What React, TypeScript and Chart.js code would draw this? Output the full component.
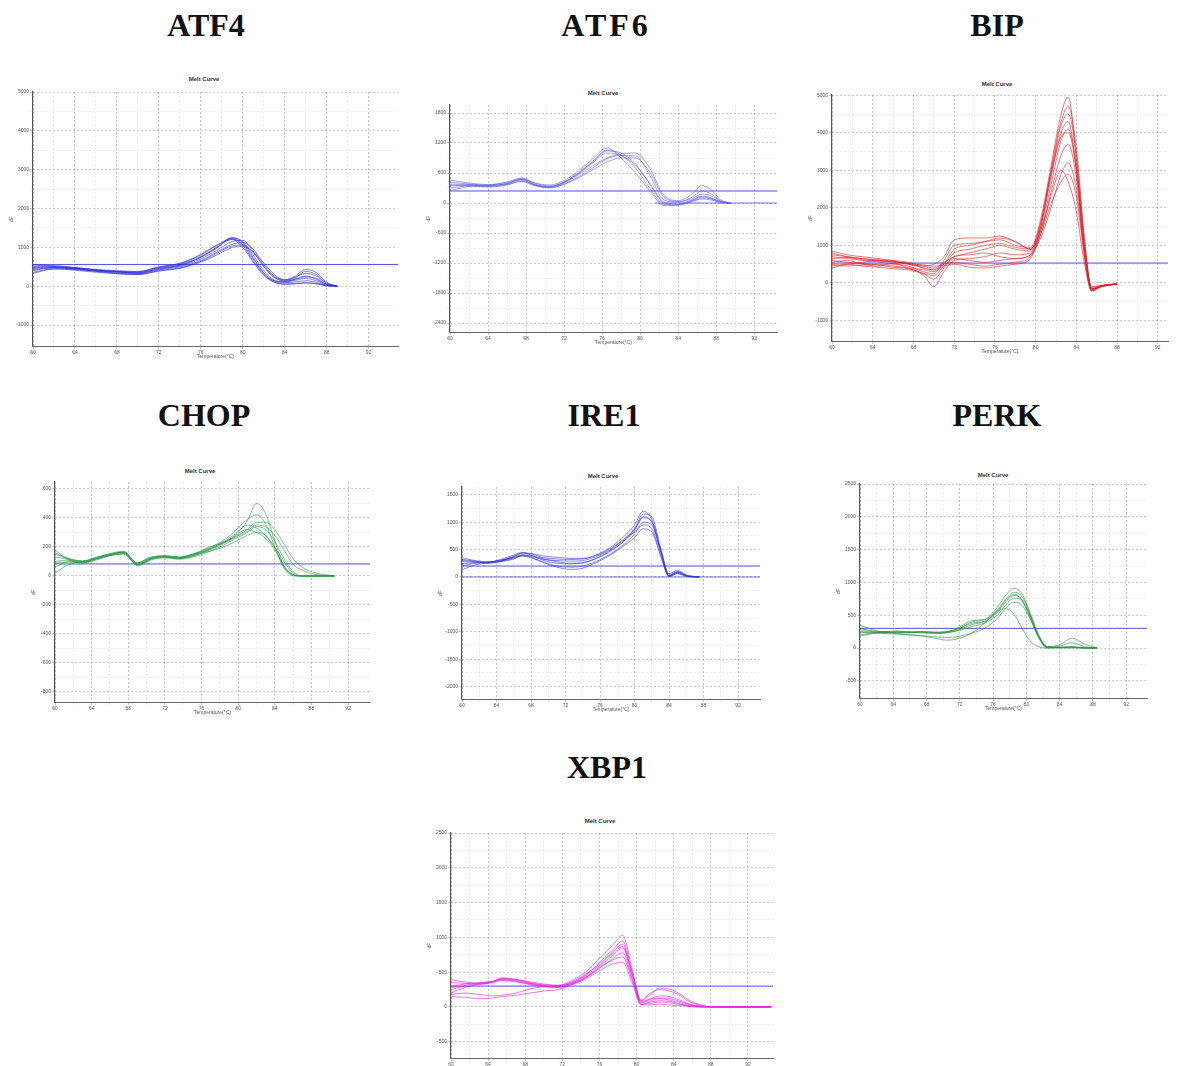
import React, { useEffect, useRef } from "react";
import { Chart, registerables } from "chart.js";

Chart.register(...registerables);

// ---------- shared tick labels ----------
const xTickLabels = [60, 64, 68, 72, 76, 80, 84, 88, 92];

// ---------- ATF4 ----------
const atf4Temps = [60, 62, 64, 66, 68, 70, 72, 74, 76, 77.5, 79, 80, 81, 82, 83, 84, 85, 86, 87, 88, 89];
const atf4Curves = [
  [450, 500, 470, 420, 380, 360, 480, 560, 760, 1000, 1210, 1080, 700, 330, 130, 90, 110, 140, 100, 20, 0],
  [400, 480, 450, 400, 360, 340, 460, 540, 740, 980, 1250, 1150, 800, 400, 160, 120, 180, 260, 180, 40, 0],
  [520, 530, 480, 410, 370, 330, 440, 520, 700, 920, 1150, 1180, 900, 500, 220, 150, 220, 380, 300, 80, 0],
  [330, 440, 430, 390, 340, 320, 420, 500, 660, 870, 1080, 1120, 950, 560, 260, 170, 260, 430, 350, 100, 0],
  [560, 510, 460, 420, 380, 370, 490, 580, 800, 1040, 1200, 1000, 620, 280, 100, 60, 70, 90, 60, 10, 0],
  [430, 470, 440, 380, 330, 300, 400, 470, 640, 840, 1040, 1060, 860, 520, 240, 130, 180, 240, 200, 50, 0],
  [480, 500, 480, 430, 400, 380, 500, 590, 820, 1060, 1230, 1050, 650, 300, 110, 50, 60, 80, 70, 10, 0],
  [360, 450, 410, 360, 320, 300, 390, 460, 620, 800, 1000, 1030, 880, 600, 300, 160, 230, 330, 260, 70, 0],
  [500, 490, 450, 400, 370, 350, 450, 540, 750, 990, 1240, 1120, 740, 350, 140, 110, 150, 200, 140, 30, 0],
];
const atf4Threshold = 560;
const atf4YTicks = [-1000, 0, 1000, 2000, 3000, 4000, 5000];

// ---------- ATF6 ----------
const atf6Temps = [60, 62, 64, 66, 67.5, 69, 70.5, 72, 73.5, 75, 76.5, 78, 79.5, 81, 82.5, 84, 85.5, 86.5, 87.5, 88.5, 89.5];
const atf6Curves = [
  [360, 350, 330, 380, 470, 360, 330, 420, 600, 820, 1060, 960, 700, 300, -30, -40, 30, 80, 60, 10, 0],
  [420, 380, 360, 420, 500, 400, 360, 450, 640, 880, 1100, 900, 600, 250, -50, -30, 60, 140, 100, 20, 0],
  [300, 340, 320, 360, 440, 350, 300, 380, 520, 700, 880, 950, 940, 560, 60, 20, 120, 240, 180, 40, 0],
  [460, 400, 370, 410, 460, 360, 320, 400, 560, 740, 900, 980, 1000, 700, 150, 50, 180, 350, 260, 60, 0],
  [250, 330, 350, 390, 480, 390, 340, 420, 600, 830, 1040, 1000, 780, 380, 0, -40, 40, 100, 80, 10, 0],
  [340, 360, 340, 370, 430, 340, 310, 370, 500, 660, 820, 900, 900, 620, 120, 30, 90, 180, 140, 30, 0],
  [380, 370, 350, 390, 490, 370, 320, 410, 580, 800, 1000, 950, 760, 400, 20, -20, 60, 120, 90, 20, 0],
];
const atf6Threshold = 240;
const atf6ZeroLineStart = 81.6;
const atf6YTicks = [-2400, -1800, -1200, -600, 0, 600, 1200, 1800];

// ---------- BIP ----------
const bipTemps = [60, 61.5, 63, 64.5, 66, 67.5, 69, 70, 71, 72, 73.5, 75, 76.5, 78, 79.5, 80.5, 81.5, 82.5, 83.2, 84, 84.8, 85.5, 86.5, 88];
const bipCurves = [
  [700, 650, 600, 560, 500, 450, 300, 250, 600, 1000, 1050, 1100, 1150, 1000, 950, 1700, 3100, 4500, 4950, 3300, 900, -200, -80, -30],
  [550, 600, 500, 450, 520, 400, 200, -100, 300, 600, 650, 700, 800, 750, 800, 1500, 2800, 4000, 4300, 3000, 700, -220, -100, -30],
  [850, 750, 700, 650, 600, 550, 450, 400, 550, 700, 800, 900, 1000, 900, 850, 1400, 2600, 3800, 4100, 3100, 1000, -150, -80, -30],
  [400, 500, 550, 600, 550, 500, 400, 350, 500, 550, 500, 450, 500, 550, 700, 1300, 2400, 3400, 3700, 2800, 900, -120, -60, -20],
  [600, 550, 520, 480, 420, 380, 250, 100, 400, 700, 750, 800, 700, 650, 750, 1200, 2000, 2900, 3200, 2500, 800, -180, -90, -30],
  [750, 700, 650, 600, 580, 500, 450, 500, 700, 1150, 1200, 1200, 1250, 1100, 900, 1400, 2300, 3000, 2700, 1900, 500, -200, -80, -30],
  [500, 450, 480, 500, 450, 400, 350, 300, 450, 500, 420, 400, 450, 500, 650, 1500, 2900, 4200, 4500, 3400, 1100, -100, -70, -20],
  [650, 680, 620, 580, 560, 520, 400, 350, 500, 800, 900, 1000, 1050, 950, 900, 1600, 3000, 4300, 4700, 3600, 1200, -160, -90, -30],
  [450, 500, 450, 420, 380, 350, 250, 200, 450, 650, 600, 550, 600, 650, 750, 1300, 2100, 2700, 2900, 2300, 700, -180, -80, -20],
  [800, 700, 650, 620, 580, 520, 480, 450, 520, 900, 1000, 1100, 1200, 1100, 900, 1600, 2900, 3900, 4000, 3000, 950, -150, -70, -30],
];
const bipThreshold = 530;
const bipYTicks = [-1000, 0, 1000, 2000, 3000, 4000, 5000];

// ---------- CHOP ----------
const chopTemps = [60, 61.5, 63, 64.5, 66, 67.5, 69, 70.5, 72, 73.5, 75, 76.5, 78, 79.5, 81, 82, 83, 84, 85, 86, 87, 88.5, 90.5];
const chopCurves = [
  [150, 120, 100, 130, 150, 165, 90, 130, 130, 125, 140, 170, 210, 270, 380, 500, 430, 240, 70, 10, 0, 0, 0],
  [180, 110, 95, 120, 140, 160, 80, 120, 140, 130, 150, 190, 230, 300, 390, 420, 360, 200, 60, 5, 0, 0, 0],
  [60, 100, 90, 115, 145, 155, 70, 110, 125, 115, 130, 160, 200, 250, 300, 340, 320, 240, 120, 30, 0, 0, 0],
  [100, 110, 100, 125, 155, 170, 85, 125, 135, 120, 135, 175, 215, 270, 320, 300, 260, 180, 60, 0, 0, 0, 0],
  [20, 80, 100, 120, 150, 160, 75, 115, 130, 125, 145, 180, 220, 260, 310, 350, 340, 280, 180, 80, 40, 10, 0],
  [130, 115, 90, 110, 140, 150, 80, 120, 135, 120, 140, 165, 190, 230, 280, 300, 280, 200, 100, 20, 0, 0, 0],
  [160, 120, 105, 125, 150, 165, 90, 130, 140, 130, 150, 175, 220, 280, 350, 330, 280, 190, 70, 10, 0, 0, 0],
  [90, 95, 95, 120, 145, 160, 80, 120, 130, 125, 145, 185, 225, 265, 320, 370, 370, 320, 220, 120, 60, 20, 0],
];
const chopThreshold = 83;
const chopYTicks = [-800, -600, -400, -200, 0, 200, 400, 600];

// ---------- IRE1 ----------
const ire1Temps = [60, 61.5, 63, 64.5, 66, 67, 68, 69.5, 71, 72.5, 74, 75.5, 77, 78.5, 80, 81, 82, 83, 84, 85, 86, 87.5];
const ire1Curves = [
  [300, 280, 260, 300, 380, 430, 420, 350, 330, 320, 330, 400, 520, 700, 950, 1200, 1050, 500, 20, 80, 20, 0],
  [200, 250, 270, 320, 400, 450, 400, 300, 250, 240, 260, 330, 450, 620, 850, 1100, 1000, 520, 40, 100, 30, 0],
  [350, 300, 280, 290, 340, 380, 350, 270, 200, 180, 200, 280, 400, 560, 780, 1000, 950, 480, 30, 90, 20, 0],
  [130, 220, 260, 310, 360, 400, 380, 320, 300, 290, 300, 370, 480, 640, 820, 950, 880, 420, 10, 60, 10, 0],
  [280, 270, 250, 290, 370, 440, 430, 380, 360, 340, 340, 390, 500, 660, 880, 1150, 1100, 560, 60, 120, 40, 0],
  [240, 260, 270, 300, 350, 390, 360, 260, 180, 140, 160, 260, 380, 540, 720, 880, 820, 400, 10, 70, 20, 0],
  [320, 290, 260, 280, 330, 400, 390, 330, 280, 250, 260, 340, 460, 620, 870, 1080, 1020, 500, 20, 90, 20, 0],
];
const ire1Threshold = 200;
const ire1ZeroLineStart = 60;
const ire1YTicks = [-2000, -1500, -1000, -500, 0, 500, 1000, 1500];

// ---------- PERK ----------
const perkTemps = [60, 61.5, 63, 64.5, 66, 67.5, 69, 70.5, 72, 73.5, 75, 76.5, 77.5, 78.5, 79.5, 80.5, 81.5, 82.5, 84, 85.5, 87, 88.5];
const perkCurves = [
  [300, 260, 250, 240, 230, 250, 240, 250, 320, 420, 440, 620, 800, 910, 820, 520, 200, 20, 10, 20, 0, 0],
  [250, 240, 230, 240, 250, 240, 230, 240, 300, 400, 430, 580, 740, 850, 780, 500, 180, 10, 10, 10, 0, 0],
  [350, 280, 240, 250, 240, 230, 220, 230, 280, 360, 400, 540, 700, 800, 740, 480, 170, 10, 30, 80, 20, 0],
  [200, 230, 250, 260, 240, 240, 230, 240, 270, 330, 380, 500, 650, 760, 710, 470, 170, 20, 50, 150, 60, 0],
  [280, 250, 240, 230, 240, 250, 240, 250, 300, 380, 410, 560, 720, 820, 720, 440, 150, 0, 10, 10, 0, 0],
  [180, 220, 240, 220, 200, 190, 170, 160, 180, 230, 300, 450, 600, 700, 650, 430, 160, 10, 10, 20, 0, 0],
  [240, 230, 220, 210, 200, 180, 150, 120, 150, 230, 380, 560, 600, 520, 300, 100, 20, 0, 0, 0, 0, 0],
];
const perkThreshold = 300;
const perkYTicks = [-500, 0, 500, 1000, 1500, 2000, 2500];

// ---------- XBP1 ----------
const xbp1Temps = [60, 61.5, 63, 64.5, 65.5, 67, 68.5, 70, 71.5, 73, 74.5, 76, 77.5, 78.5, 79.5, 80.5, 81.5, 82.5, 83.5, 84.5, 85.5, 87, 88.5, 94.5];
const xbp1Curves = [
  [300, 330, 350, 370, 400, 380, 340, 320, 310, 380, 500, 700, 900, 1030, 560, 80, 120, 160, 150, 110, 50, 10, 0, 0],
  [250, 300, 320, 350, 380, 360, 330, 300, 290, 350, 460, 640, 830, 950, 520, 100, 200, 250, 230, 180, 90, 20, 0, 0],
  [350, 340, 330, 360, 410, 390, 350, 310, 300, 340, 430, 580, 750, 850, 460, 60, 90, 120, 100, 70, 30, 5, 0, 0],
  [200, 280, 330, 360, 390, 370, 320, 290, 280, 330, 420, 560, 700, 780, 420, 40, 50, 70, 60, 40, 15, 0, 0, 0],
  [150, 140, 120, 130, 150, 170, 200, 230, 250, 320, 420, 560, 680, 720, 400, 30, 30, 40, 30, 20, 10, 0, 0, 0],
  [390, 360, 340, 360, 420, 400, 360, 330, 310, 360, 470, 620, 800, 900, 500, 90, 180, 270, 260, 200, 110, 25, 0, 0],
  [280, 310, 340, 370, 400, 390, 340, 300, 280, 320, 400, 520, 620, 640, 360, 40, 70, 90, 80, 50, 20, 0, 0, 0],
  [180, 200, 180, 160, 170, 200, 260, 290, 300, 340, 450, 600, 780, 870, 480, 70, 110, 130, 120, 90, 40, 10, 0, 0],
];
const xbp1Threshold = 300;
const xbp1YTicks = [-500, 0, 500, 1000, 1500, 2000, 2500];

// ---------- layout (positions / styles only) ----------
const Y_AXIS_W = 24;
const X_AXIS_H = 14;
const PAD_T = 6;
const PAD_R = 8;

type Panel = {
  name: string;
  titleX: number;
  titleTop: number;
  letterSpacing: number;
  meltX: number;
  meltY: number;
  L: number; T: number; R: number; B: number;
  xMax: number; yMin: number; yMax: number;
  color: string;
  temps: number[];
  curves: number[][];
  yTicks: number[];
  threshold: number;
  zeroFrom?: number;
};

const panels: Panel[] = [
  { name: "ATF4", titleX: 206, titleTop: 9, letterSpacing: 0, meltX: 204, meltY: 79, L: 33, T: 92, R: 398, B: 346, xMax: 94.8, yMin: -1540, yMax: 5000, color: "rgba(45,45,215,0.8)", temps: atf4Temps, curves: atf4Curves, yTicks: atf4YTicks, threshold: atf4Threshold },
  { name: "ATF6", titleX: 606, titleTop: 9, letterSpacing: 3, meltX: 603, meltY: 93, L: 450, T: 105, R: 777, B: 332, xMax: 94.4, yMin: -2580, yMax: 1960, color: "rgba(90,90,225,0.75)", temps: atf6Temps, curves: atf6Curves, yTicks: atf6YTicks, threshold: atf6Threshold, zeroFrom: atf6ZeroLineStart },
  { name: "BIP", titleX: 997, titleTop: 9, letterSpacing: 0, meltX: 997, meltY: 84, L: 832, T: 95, R: 1168, B: 341, xMax: 93.0, yMin: -1547, yMax: 5010, color: "rgba(215,30,40,0.8)", temps: bipTemps, curves: bipCurves, yTicks: bipYTicks, threshold: bipThreshold },
  { name: "CHOP", titleX: 204, titleTop: 399, letterSpacing: 0, meltX: 200, meltY: 471, L: 55, T: 482, R: 370, B: 702, xMax: 94.4, yMin: -869, yMax: 648, color: "rgba(40,150,70,0.8)", temps: chopTemps, curves: chopCurves, yTicks: chopYTicks, threshold: chopThreshold },
  { name: "IRE1", titleX: 604, titleTop: 399, letterSpacing: 0, meltX: 603, meltY: 476, L: 462, T: 487, R: 760, B: 699, xMax: 94.55, yMin: -2226, yMax: 1642, color: "rgba(55,55,215,0.8)", temps: ire1Temps, curves: ire1Curves, yTicks: ire1YTicks, threshold: ire1Threshold, zeroFrom: ire1ZeroLineStart },
  { name: "PERK", titleX: 997, titleTop: 399, letterSpacing: 0, meltX: 993, meltY: 475, L: 860, T: 484, R: 1147, B: 698, xMax: 94.5, yMin: -762, yMax: 2500, color: "rgba(40,140,60,0.8)", temps: perkTemps, curves: perkCurves, yTicks: perkYTicks, threshold: perkThreshold },
  { name: "XBP1", titleX: 607, titleTop: 751, letterSpacing: 0, meltX: 600, meltY: 821, L: 451, T: 833, R: 773, B: 1058, xMax: 94.7, yMin: -733, yMax: 2500, color: "rgba(230,40,220,0.85)", temps: xbp1Temps, curves: xbp1Curves, yTicks: xbp1YTicks, threshold: xbp1Threshold },
];

function withMinors(majors: number[]) {
  const out: { value: number; minor?: boolean }[] = [];
  majors.forEach((v, i) => {
    out.push({ value: v });
    if (i < majors.length - 1) out.push({ value: (v + majors[i + 1]) / 2, minor: true });
  });
  return out;
}

const gridColor = (ctx: any) =>
  ctx.tick && ctx.tick.minor ? "rgba(0,0,0,0.10)" : "rgba(0,0,0,0.30)";

function MeltPanel({ p }: { p: Panel }) {
  const ref = useRef<HTMLCanvasElement | null>(null);
  const w = Y_AXIS_W + (p.R - p.L) + PAD_R;
  const h = PAD_T + (p.B - p.T) + X_AXIS_H;

  useEffect(() => {
    if (!ref.current) return;
    const datasets: any[] = p.curves.map((c) => ({
      data: p.temps.map((t, i) => ({ x: t, y: c[i] })),
      borderColor: p.color,
      borderWidth: 0.75,
      pointRadius: 0,
      cubicInterpolationMode: "monotone",
      fill: false,
    }));
    if (p.zeroFrom !== undefined) {
      datasets.push({
        data: [{ x: p.zeroFrom, y: 0 }, { x: p.xMax, y: 0 }],
        borderColor: "rgba(70,70,215,0.75)",
        borderWidth: 1,
        pointRadius: 0,
        fill: false,
      });
    }
    datasets.push({
      data: [{ x: 60, y: p.threshold }, { x: p.xMax, y: p.threshold }],
      borderColor: "rgba(60,60,210,0.9)",
      borderWidth: 1,
      pointRadius: 0,
      fill: false,
    });

    const xTickObjs = withMinors(xTickLabels);
    const yTickObjs = withMinors(p.yTicks);

    const chart = new Chart(ref.current, {
      type: "line",
      data: { datasets },
      options: {
        animation: false,
        responsive: false,
        maintainAspectRatio: false,
        devicePixelRatio: 1,
        layout: { padding: { top: PAD_T, right: PAD_R, left: 0, bottom: 0 }, autoPadding: false },
        plugins: { legend: { display: false }, tooltip: { enabled: false }, title: { display: false } },
        scales: {
          x: {
            type: "linear",
            min: 60,
            max: p.xMax,
            afterBuildTicks: (s: any) => { s.ticks = xTickObjs.map((t) => ({ ...t })); },
            afterFit: (s: any) => { s.height = X_AXIS_H; },
            ticks: {
              autoSkip: false,
              maxRotation: 0,
              padding: 1,
              color: "#555",
              font: { size: 5, family: "Arial" },
              callback: (v: any, i: number, t: any[]) => (t[i] && t[i].minor ? "" : String(v)),
            },
            grid: { color: gridColor, lineWidth: 0.7, tickLength: 3 },
            border: { display: true, color: "#666", width: 1, dash: [2, 2] },
            title: { display: true, text: "Temperature(°C)", color: "#555", font: { size: 5, family: "Arial" }, padding: { top: 0, bottom: 0 } },
          },
          y: {
            type: "linear",
            min: p.yMin,
            max: p.yMax,
            afterBuildTicks: (s: any) => { s.ticks = yTickObjs.map((t) => ({ ...t })); },
            afterFit: (s: any) => { s.width = Y_AXIS_W; },
            ticks: {
              autoSkip: false,
              padding: 1,
              color: "#555",
              font: { size: 5, family: "Arial" },
              callback: (v: any, i: number, t: any[]) => (t[i] && t[i].minor ? "" : String(v)),
            },
            grid: { color: gridColor, lineWidth: 0.7, tickLength: 3 },
            border: { display: true, color: "#555", width: 1.2, dash: [2, 2] },
            title: { display: true, text: "dF", color: "#555", font: { size: 5, family: "Arial" }, padding: { top: 0, bottom: 0 } },
          },
        },
      } as any,
    });
    return () => chart.destroy();
  }, []);

  return (
    <>
      <div
        style={{
          position: "absolute",
          left: p.titleX - 100,
          top: p.titleTop,
          width: 200,
          textAlign: "center",
          fontFamily: '"Liberation Serif", "Times New Roman", serif',
          fontWeight: "bold",
          fontSize: 32,
          lineHeight: "32px",
          letterSpacing: p.letterSpacing,
          color: "#111",
        }}
      >
        {p.name}
      </div>
      <div
        style={{
          position: "absolute",
          left: p.meltX - 40,
          top: p.meltY - 4,
          width: 80,
          textAlign: "center",
          fontFamily: "Arial, 'Liberation Sans', sans-serif",
          fontWeight: "bold",
          fontSize: 6,
          lineHeight: "8px",
          color: "#333",
        }}
      >
        Melt Curve
      </div>
      <canvas
        ref={ref}
        width={w}
        height={h}
        style={{ position: "absolute", left: p.L - Y_AXIS_W, top: p.T - PAD_T, width: w, height: h }}
      />
    </>
  );
}

export default function App() {
  return (
    <div style={{ position: "absolute", left: 0, top: 0, width: 1177, height: 1066, background: "#fff", overflow: "hidden" }}>
      {panels.map((p) => (
        <MeltPanel key={p.name} p={p} />
      ))}
    </div>
  );
}
